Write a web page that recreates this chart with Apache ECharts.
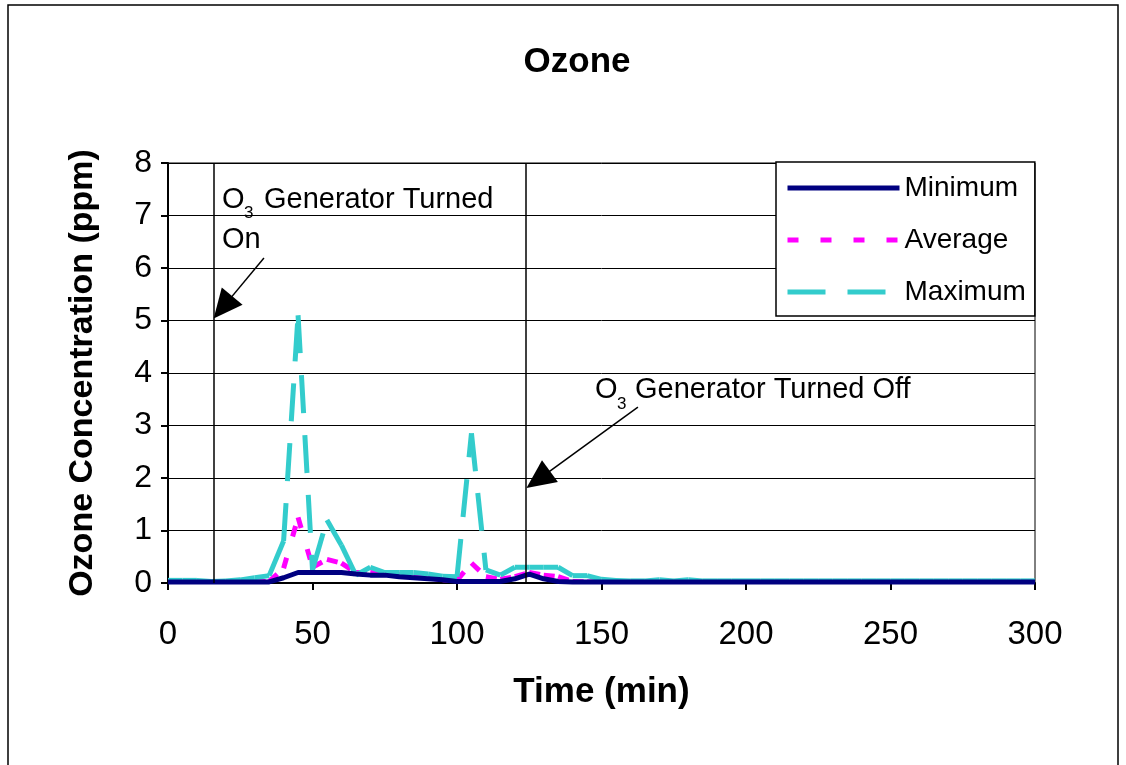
<!DOCTYPE html>
<html>
<head>
<meta charset="utf-8">
<title>Ozone</title>
<script src="https://cdn.jsdelivr.net/npm/echarts@6/dist/echarts.min.js"></script>
<style>
    html, body { margin: 0; padding: 0; background: #fff; }
    #chart { width: 1126px; height: 765px; }
</style>
</head>
<body>
<div id="chart"></div>
<script>
    // sampling times (min), every 5 minutes
    const times = [0, 5, 10, 15, 20, 25, 30, 35, 40, 45, 50, 55, 60, 65, 70, 75, 80, 85, 90, 95,
        100, 105, 110, 115, 120, 125, 130, 135, 140, 145, 150, 155, 160, 165, 170, 175, 180, 185, 190, 195,
        200, 205, 210, 215, 220, 225, 230, 235, 240, 245, 250, 255, 260, 265, 270, 275, 280, 285, 290, 295, 300];

    // ozone readings (ppm)
    const minimumPpm = [0.02, 0.02, 0.02, 0.02, 0.02, 0.02, 0.02, 0.02, 0.1, 0.2, 0.2, 0.2, 0.2, 0.17, 0.15, 0.15, 0.12, 0.1, 0.08, 0.06,
        0.03, 0.03, 0.03, 0.03, 0.08, 0.17, 0.08, 0.03, 0.02, 0.02, 0.02, 0.02, 0.02, 0.02, 0.02, 0.02, 0.02, 0.02, 0.02, 0.02,
        0.02, 0.02, 0.02, 0.02, 0.02, 0.02, 0.02, 0.02, 0.02, 0.02, 0.02, 0.02, 0.02, 0.02, 0.02, 0.02, 0.02, 0.02, 0.02, 0.02, 0.02];
    const averagePpm = [0.02, 0.02, 0.02, 0.02, 0.02, 0.02, 0.02, 0.03, 0.28, 1.25, 0.3, 0.45, 0.38, 0.2, 0.2, 0.18, 0.16, 0.15, 0.1, 0.06,
        0.05, 0.38, 0.12, 0.07, 0.12, 0.2, 0.15, 0.12, 0.03, 0.02, 0.02, 0.02, 0.02, 0.02, 0.02, 0.02, 0.02, 0.02, 0.02, 0.02,
        0.02, 0.02, 0.02, 0.02, 0.02, 0.02, 0.02, 0.02, 0.02, 0.02, 0.02, 0.02, 0.02, 0.02, 0.02, 0.02, 0.02, 0.02, 0.02, 0.02, 0.02];
    const maximumPpm = [0.05, 0.05, 0.05, 0.03, 0.04, 0.06, 0.1, 0.14, 0.8, 5.1, 0.25, 1.2, 0.72, 0.15, 0.3, 0.2, 0.2, 0.2, 0.17, 0.13,
        0.12, 2.85, 0.25, 0.15, 0.3, 0.3, 0.3, 0.3, 0.14, 0.14, 0.07, 0.05, 0.04, 0.04, 0.06, 0.04, 0.06, 0.04, 0.04, 0.04,
        0.04, 0.04, 0.04, 0.04, 0.04, 0.04, 0.04, 0.04, 0.04, 0.04, 0.04, 0.04, 0.04, 0.04, 0.04, 0.04, 0.04, 0.04, 0.04, 0.04, 0.04];

    const xTicks = { min: 0, max: 300, step: 50 };
    const yTicks = { min: 0, max: 8, step: 1 };

    // generator events (min) and arrow ends [from, to] in data units
    const turnedOnAt = 16;
    const turnedOffAt = 123.7;
    const onArrow = [[33.2, 6.19], [19.0, 5.25]];
    const offArrow = [[162.6, 3.35], [128.1, 1.97]];

    const FONT = '"Liberation Sans", Arial, sans-serif';
    const AVG_DASH = [11, 22];
    const MAX_DASH = [38, 22];

    const pairs = (vals) => times.map((t, i) => [t, vals[i]]);

    // excel restarts the dash on every segment, so draw segment by segment
    function segmentSeries(name, vals, color, dash) {
        return {
            name: name, type: 'custom', clip: true,
            data: pairs(vals),
            encode: { x: 0, y: 1 },
            renderItem: function (params, api) {
                const i = params.dataIndex;
                if (i === 0) return null;
                const p0 = api.coord([times[i - 1], vals[i - 1]]);
                const p1 = api.coord([api.value(0), api.value(1)]);
                return {
                    type: 'line',
                    shape: { x1: p0[0], y1: p0[1], x2: p1[0], y2: p1[1] },
                    style: { stroke: color, lineWidth: 5, lineDash: dash, lineCap: 'butt' }
                };
            }
        };
    }

    const chart = echarts.init(document.getElementById('chart'));
    const blackLine = { color: '#000', width: 1.5, type: 'solid' };

    chart.setOption({
        animation: false,
        backgroundColor: '#fff',
        title: {
            text: 'Ozone',
            left: 572, top: 57, textAlign: 'center', textVerticalAlign: 'middle',
            textStyle: { fontFamily: FONT, fontSize: 35, fontWeight: 'bold', color: '#000' }
        },
        grid: {
            left: 168, top: 163, width: 867, height: 420,
            show: true, borderColor: '#000', borderWidth: 1, backgroundColor: 'transparent'
        },
        legend: {
            orient: 'vertical',
            left: 776, top: 162,
            data: ['Minimum', 'Average', 'Maximum'],
            itemWidth: 112, itemHeight: 26, itemGap: 24,
            padding: [12, 9, 10, 9],
            backgroundColor: '#fff',
            borderColor: '#000', borderWidth: 1.5, borderRadius: 0,
            itemStyle: { opacity: 0 },
            lineStyle: { width: 5 },
            textStyle: { fontFamily: FONT, fontSize: 28, color: '#000', lineHeight: 26 }
        },
        xAxis: {
            type: 'value',
            min: xTicks.min, max: xTicks.max, interval: xTicks.step,
            name: 'Time (min)', nameLocation: 'middle', nameGap: 92,
            nameTextStyle: { fontFamily: FONT, fontSize: 35, fontWeight: 'bold', color: '#000' },
            axisLine: { lineStyle: { color: '#000', width: 2 } },
            axisTick: { show: true, length: 7, lineStyle: { color: '#000', width: 2 } },
            axisLabel: { margin: 35, fontFamily: FONT, fontSize: 33, color: '#000' },
            splitLine: { show: false }
        },
        yAxis: {
            type: 'value',
            min: yTicks.min, max: yTicks.max, interval: yTicks.step,
            name: 'Ozone Concentration (ppm)', nameLocation: 'middle', nameGap: 68,
            nameTextStyle: { fontFamily: FONT, fontSize: 34, fontWeight: 'bold', color: '#000' },
            axisLine: { show: true, lineStyle: { color: '#000', width: 2 } },
            axisTick: { show: true, length: 7, lineStyle: { color: '#000', width: 2 } },
            axisLabel: { margin: 16, fontFamily: FONT, fontSize: 32, color: '#000' },
            splitLine: { show: true, lineStyle: { color: '#000', width: 1 } }
        },
        series: [
            {
                name: 'Minimum', type: 'line', data: pairs(minimumPpm),
                symbol: 'none', color: '#000080',
                lineStyle: { color: '#000080', width: 5 },
                markLine: {
                    silent: true, animation: false,
                    symbol: ['none', 'none'],
                    label: { show: false },
                    lineStyle: blackLine,
                    itemStyle: { color: '#000' },
                    data: [
                        { xAxis: turnedOnAt },
                        { xAxis: turnedOffAt },
                        [
                            { coord: onArrow[0], symbol: 'none' },
                            { coord: onArrow[1], symbol: 'triangle', symbolSize: [27, 29] }
                        ],
                        [
                            { coord: offArrow[0], symbol: 'none' },
                            { coord: offArrow[1], symbol: 'triangle', symbolSize: [27, 29] }
                        ]
                    ]
                }
            },
            // legend samples only
            {
                name: 'Average', type: 'line', data: [], symbol: 'none', color: '#FF00FF',
                lineStyle: { color: '#FF00FF', width: 5, type: AVG_DASH }
            },
            {
                name: 'Maximum', type: 'line', data: [], symbol: 'none', color: '#33CCCC',
                lineStyle: { color: '#33CCCC', width: 5, type: MAX_DASH }
            },
            segmentSeries('Average', averagePpm, '#FF00FF', AVG_DASH),
            segmentSeries('Maximum', maximumPpm, '#33CCCC', MAX_DASH)
        ],
        graphic: [
            {
                type: 'rect', silent: true, z: -10,
                shape: { x: 8, y: 5, width: 1110, height: 820 },
                style: { fill: 'none', stroke: '#000', lineWidth: 1.5 }
            },
            { type: 'text', x: 222, y: 200, style: { text: 'O', font: '29px ' + FONT, fill: '#000', textVerticalAlign: 'middle' } },
            { type: 'text', x: 244, y: 213, style: { text: '3', font: '17px ' + FONT, fill: '#000', textVerticalAlign: 'middle' } },
            { type: 'text', x: 264, y: 200, style: { text: 'Generator Turned', font: '29px ' + FONT, fill: '#000', textVerticalAlign: 'middle' } },
            { type: 'text', x: 222, y: 240, style: { text: 'On', font: '29px ' + FONT, fill: '#000', textVerticalAlign: 'middle' } },
            { type: 'text', x: 595, y: 390, style: { text: 'O', font: '29px ' + FONT, fill: '#000', textVerticalAlign: 'middle' } },
            { type: 'text', x: 617, y: 404, style: { text: '3', font: '17px ' + FONT, fill: '#000', textVerticalAlign: 'middle' } },
            { type: 'text', x: 635, y: 390, style: { text: 'Generator Turned Off', font: '29px ' + FONT, fill: '#000', textVerticalAlign: 'middle' } }
        ]
    });
</script>
</body>
</html>
